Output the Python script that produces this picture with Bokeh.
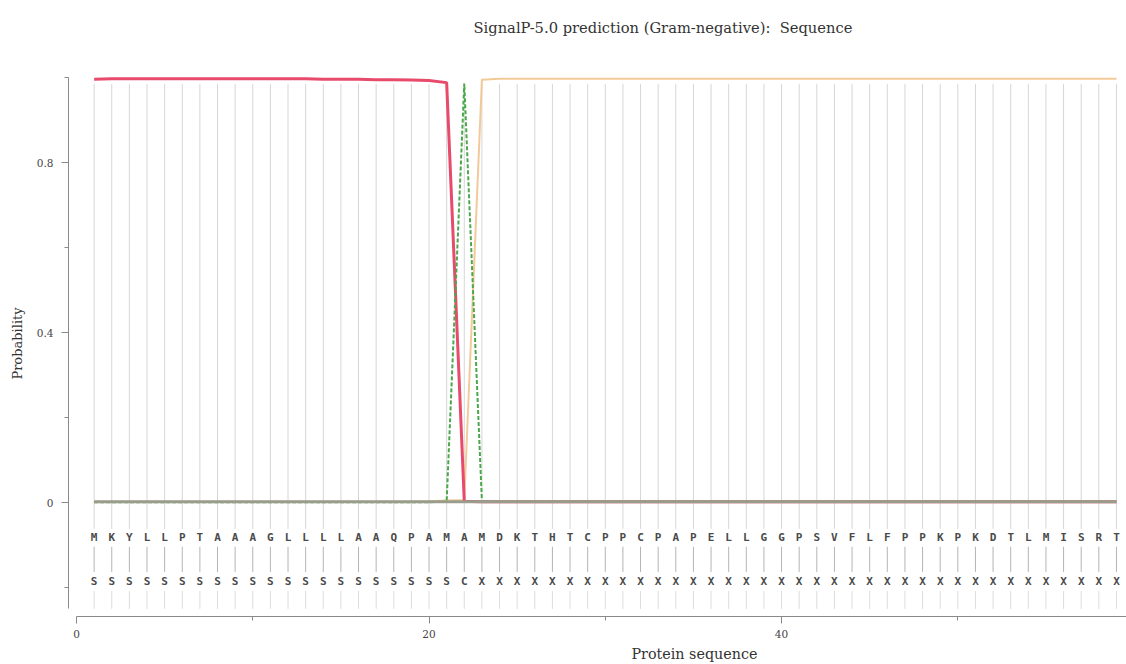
from bokeh.plotting import figure
from bokeh.models import Range1d, FixedTicker, Title, ColumnDataSource
from bokeh.core.properties import value
from bokeh.embed import file_html
from bokeh.resources import INLINE

# ---- data ----
sequence = list("MKYLLPTAAAGLLLLAAQPAMAMDKTHTCPPCPAPELLGGPSVFLFPPKPKDTLMISRT")
region_labels = list("SSSSSSSSSSSSSSSSSSSSSCXXXXXXXXXXXXXXXXXXXXXXXXXXXXXXXXXXXXX")
positions = list(range(1, len(sequence) + 1))

sp_prob = [0.996, 0.997, 0.997, 0.997, 0.997, 0.997, 0.997, 0.997, 0.997, 0.997,
           0.997, 0.997, 0.997, 0.996, 0.996, 0.996, 0.995, 0.995, 0.994, 0.993,
           0.988, 0.003, 0.002, 0.002, 0.002, 0.002, 0.002, 0.002, 0.002, 0.002,
           0.002, 0.002, 0.002, 0.002, 0.002, 0.002, 0.002, 0.002, 0.002, 0.002,
           0.002, 0.002, 0.002, 0.002, 0.002, 0.002, 0.002, 0.002, 0.002, 0.002,
           0.002, 0.002, 0.002, 0.002, 0.002, 0.002, 0.002, 0.002, 0.002]
cs_prob = [0.001, 0.001, 0.001, 0.001, 0.001, 0.001, 0.001, 0.001, 0.001, 0.001,
           0.001, 0.001, 0.001, 0.001, 0.001, 0.001, 0.001, 0.001, 0.001, 0.001,
           0.002, 0.986, 0.003, 0.002, 0.002, 0.002, 0.002, 0.002, 0.002, 0.002,
           0.002, 0.002, 0.002, 0.002, 0.002, 0.002, 0.002, 0.002, 0.002, 0.002,
           0.002, 0.002, 0.002, 0.002, 0.002, 0.002, 0.002, 0.002, 0.002, 0.002,
           0.002, 0.002, 0.002, 0.002, 0.002, 0.002, 0.002, 0.002, 0.002]
other_prob = [0.002, 0.002, 0.002, 0.002, 0.002, 0.002, 0.002, 0.002, 0.002, 0.002,
              0.002, 0.002, 0.002, 0.002, 0.002, 0.002, 0.002, 0.002, 0.002, 0.003,
              0.005, 0.006, 0.995, 0.997, 0.997, 0.997, 0.997, 0.997, 0.997, 0.997,
              0.997, 0.997, 0.997, 0.997, 0.997, 0.997, 0.997, 0.997, 0.997, 0.997,
              0.997, 0.997, 0.997, 0.997, 0.997, 0.997, 0.997, 0.997, 0.997, 0.997,
              0.997, 0.997, 0.997, 0.997, 0.997, 0.997, 0.997, 0.997, 0.997]
# minor classes (Tat/SPI, Sec/SPII) stay near zero along the whole sequence
minor_prob = [0.002, 0.002, 0.002, 0.002, 0.002, 0.002, 0.002, 0.002, 0.002, 0.002,
              0.002, 0.002, 0.002, 0.002, 0.002, 0.002, 0.002, 0.002, 0.002, 0.002,
              0.002, 0.002, 0.002, 0.002, 0.002, 0.002, 0.002, 0.002, 0.002, 0.002,
              0.002, 0.002, 0.002, 0.002, 0.002, 0.002, 0.002, 0.002, 0.002, 0.002,
              0.002, 0.002, 0.002, 0.002, 0.002, 0.002, 0.002, 0.002, 0.002, 0.002,
              0.002, 0.002, 0.002, 0.002, 0.002, 0.002, 0.002, 0.002, 0.002]

x_ticks = [0, 20, 40, 60]
x_minor = [10, 30, 50]
y_ticks = [0, 0.4, 0.8]
y_minor = [-0.2, 0.2, 0.6, 1.0]

title_text = "SignalP-5.0 prediction (Gram-negative):\u00a0\u00a0Sequence"
x_label = "Protein sequence"
y_label = "Probability"

# ---- figure ----
SERIF = "DejaVu Serif"
p = figure(width=1126, height=664, output_backend="svg", toolbar_location=None,
           title_location=None,
           x_range=Range1d(-0.454, 59.57), y_range=Range1d(-0.268, 1.0165),
           min_border_left=68, min_border_right=0, min_border_top=70, min_border_bottom=48)
p.outline_line_color = None
p.xgrid.visible = False
p.ygrid.visible = False
p.background_fill_color = "white"
p.border_fill_color = "white"

# spacer nearest the frame, then the real title above it
p.add_layout(Title(text=" ", standoff=11, text_font=SERIF, text_font_size="14.7px",
                   text_color="white"), "above")
p.add_layout(Title(text=title_text, align="left", offset=405, standoff=10,
                   text_font=SERIF, text_font_size="14.7px", text_font_style="normal",
                   text_color="#333333"), "above")
p.add_layout(Title(text=x_label, align="left", offset=563, standoff=6,
                   text_font=SERIF, text_font_size="14.3px", text_font_style="normal",
                   text_color="#333333"), "below")

src = ColumnDataSource(dict(x=positions, seq=sequence, lab=region_labels,
                            sp=sp_prob, cs=cs_prob, other=other_prob, minor=minor_prob))

# vertical guide lines at each residue
p.segment(x0="x", x1="x", y0=0.985, y1=-0.062, source=src, line_color="#d6d6d6", line_width=1)
p.segment(x0="x", x1="x", y0=-0.104, y1=-0.163, source=src, line_color="#b4b4b4", line_width=1)
p.segment(x0="x", x1="x", y0=-0.208, y1=-0.25, source=src, line_color="#dcdcdc", line_width=1)

# probability lines
p.line("x", "other", source=src, line_color="#f2c48c", line_width=2, line_alpha=0.9)
p.line("x", "sp", source=src, line_color="#e84a6c", line_width=3)
p.line("x", "cs", source=src, line_color="#4aa84a", line_width=2, line_dash="4 2")
p.line("x", "minor", source=src, line_color="#9a9c8c", line_width=3.2)

# sequence letters
p.text("x", -0.0824, text="seq", source=src, text_align="center", text_baseline="middle",
       text_font=value("DejaVu Sans Mono"), text_font_size="11px", text_font_style="bold",
       text_color="#4a4a4a")
p.text("x", -0.186, text="lab", source=src, text_align="center", text_baseline="middle",
       text_font=value("DejaVu Sans Mono"), text_font_size="11px", text_font_style="bold",
       text_color="#4a4a4a")

# axes
xa = p.xaxis[0]
xa.ticker = FixedTicker(ticks=x_ticks, minor_ticks=x_minor)
xa.bounds = (0, 60)
ya = p.yaxis[0]
ya.ticker = FixedTicker(ticks=y_ticks, minor_ticks=y_minor)
ya.bounds = (-0.25, 1.0)
ya.major_label_overrides = {0: "0", 0.4: "0.4", 0.8: "0.8"}
ya.axis_label = y_label
ya.axis_label_standoff = 9
for ax in (xa, ya):
    ax.axis_line_color = "#8a8a8a"
    ax.major_tick_line_color = "#8a8a8a"
    ax.minor_tick_line_color = "#8a8a8a"
    ax.major_tick_in = 0
    ax.major_tick_out = 7
    ax.minor_tick_in = 0
    ax.minor_tick_out = 4
    ax.major_label_text_font = SERIF
    ax.major_label_text_font_size = "10.5px"
    ax.major_label_text_color = "#444444"
    ax.axis_label_text_font = SERIF
    ax.axis_label_text_font_size = "13px"
    ax.axis_label_text_font_style = "normal"
    ax.axis_label_text_color = "#333333"
xa.major_label_standoff = 6
ya.major_label_standoff = 8

open("out.html", "w").write(file_html(p, INLINE))
